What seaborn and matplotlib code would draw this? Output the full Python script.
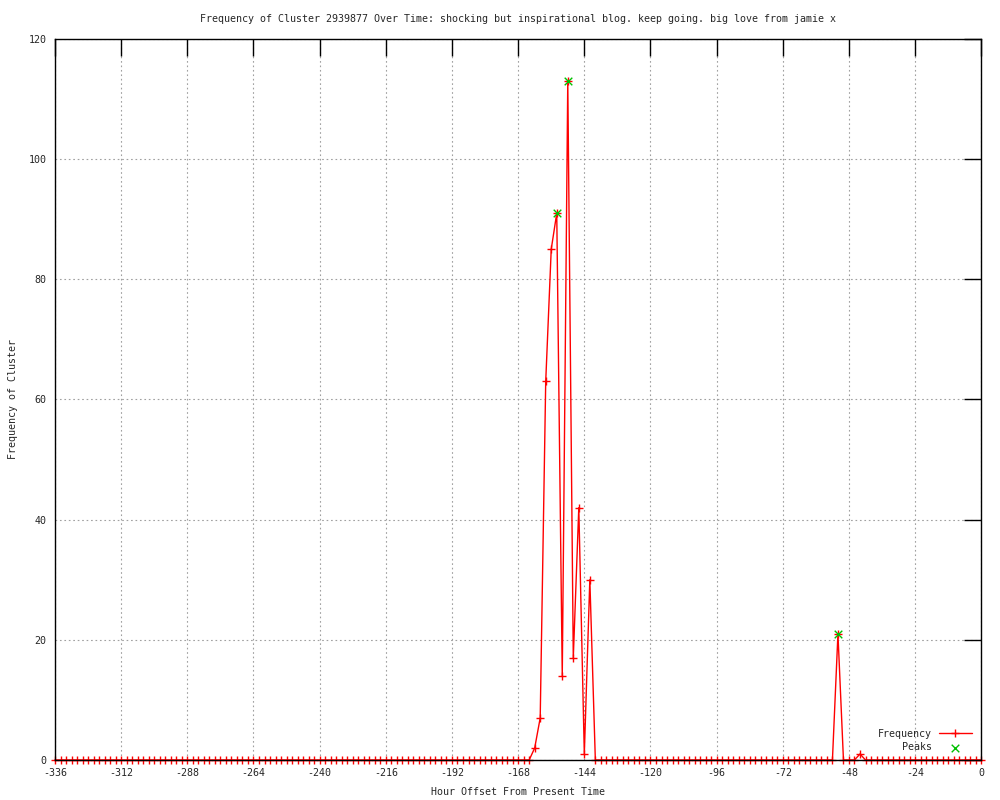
import numpy as np
import pandas as pd
import matplotlib
matplotlib.use("Agg")
import matplotlib.pyplot as plt
import seaborn as sns

# ---- data ----
title = "Frequency of Cluster 2939877 Over Time: shocking but inspirational blog. keep going. big love from jamie x"
x_label = "Hour Offset From Present Time"
y_label = "Frequency of Cluster"

# samples every 2 hours from -336 to 0; hours not listed below are 0
all_hours = list(range(-336, 1, 2))
active_hours = [-162, -160, -158, -156, -154, -152, -150, -148, -146, -144, -142, -52, -44]
active_values = [2, 7, 63, 85, 91, 14, 113, 17, 42, 1, 30, 21, 1]

peak_hours = [-154, -150, -52]
peak_values = [91, 113, 21]

x_ticks = [-336, -312, -288, -264, -240, -216, -192, -168, -144, -120, -96, -72, -48, -24, 0]
y_ticks = [0, 20, 40, 60, 80, 100, 120]

# build full series
lookup = dict(zip(active_hours, active_values))
freq_df = pd.DataFrame({"hour": all_hours,
                        "freq": [lookup.get(h, 0) for h in all_hours]})
peak_df = pd.DataFrame({"hour": peak_hours, "freq": peak_values})

# ---- style ----
sns.set_style("white")
plt.rcParams["font.family"] = ["DejaVu Sans Mono", "DejaVu Sans"]
plt.rcParams["axes.unicode_minus"] = False
FS = 7.2

fig = plt.figure(figsize=(10, 8), dpi=100)
ax = fig.add_axes([0.055, 0.05, 0.9263, 0.9013])

red = "#ff0000"
green = "#00c000"

sns.lineplot(data=freq_df, x="hour", y="freq", ax=ax, color=red, lw=1.0,
             marker="+", markersize=6, markeredgewidth=1.0, markeredgecolor=red,
             label="Frequency", clip_on=False, zorder=2)
sns.scatterplot(data=peak_df, x="hour", y="freq", ax=ax, color=green, marker="x",
                s=30, linewidth=1.0, label="    Peaks", zorder=3, clip_on=False)

ax.set_xlim(-336, 0)
ax.set_ylim(0, 120)
ax.set_xticks(x_ticks)
ax.set_yticks(y_ticks)
ax.set_xticklabels([str(t) for t in x_ticks], fontsize=FS)
ax.set_yticklabels([str(t) for t in y_ticks], fontsize=FS)
ax.tick_params(axis="both", direction="in", length=12, width=1, color="black",
               top=True, right=True, pad=6)

ax.grid(True, color="#a0a0a0", linestyle=(0, (1.5, 2.5)), linewidth=0.8)
ax.set_axisbelow(True)
for sp in ax.spines.values():
    sp.set_color("black")
    sp.set_linewidth(1.0)
    sp.set_zorder(4)

ax.set_title(title, fontsize=FS, pad=12)
ax.set_xlabel(x_label, fontsize=FS, labelpad=6)
ax.set_ylabel(y_label, fontsize=FS)
ax.yaxis.set_label_coords(-0.040, 0.5)

leg = ax.legend(loc="lower right", bbox_to_anchor=(0.997, 0.001), frameon=False,
                markerfirst=False, fontsize=FS, handlelength=3.3, handletextpad=0.7,
                labelspacing=0.35, borderpad=0.2, numpoints=1, scatterpoints=1)

fig.savefig("out.png", dpi=100)
